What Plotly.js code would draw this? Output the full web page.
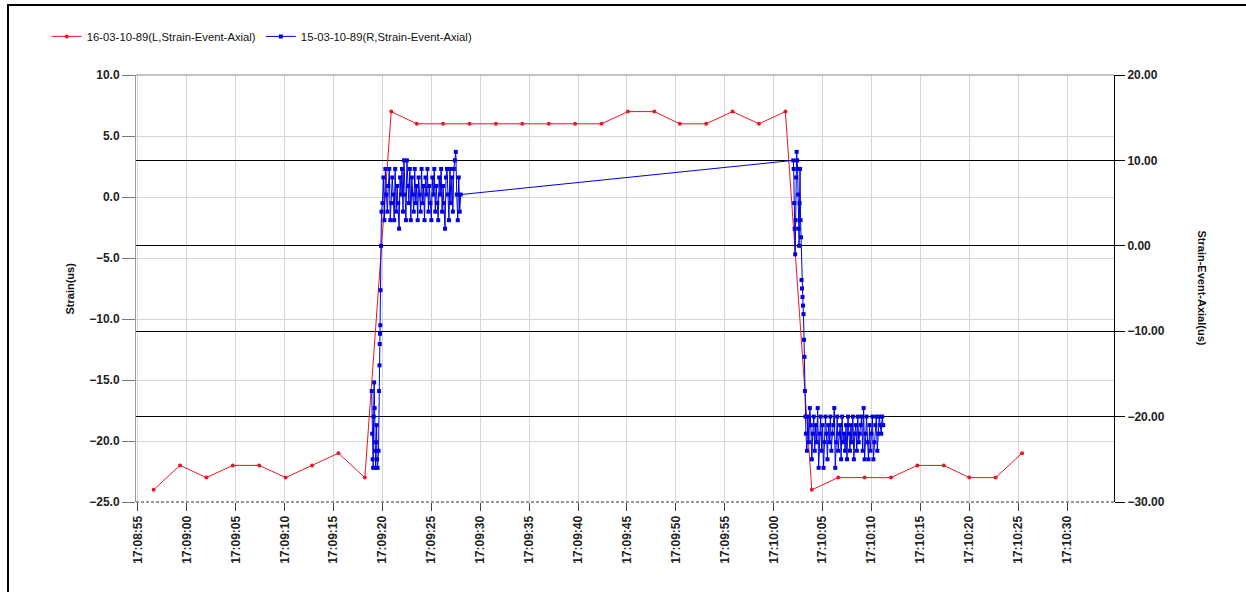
<!DOCTYPE html>
<html><head><meta charset="utf-8">
<script src="https://cdn.plot.ly/plotly-3.0.1.min.js"></script>
<style>
html,body{margin:0;padding:0;background:#fff;overflow:hidden;}
#chart{width:1246px;height:592px;}
#frame{position:absolute;left:7px;top:4px;width:1245px;height:592px;border-top:2px solid #000;border-left:2px solid #000;pointer-events:none;}
</style>
</head><body><div id="chart"></div><div id="frame"></div>
<script>
// ---- data (times in seconds after 17:08:00) ----
const seriesNames = ['16-03-10-89(L,Strain-Event-Axial)', '15-03-10-89(R,Strain-Event-Axial)'];

const redTimes = [56.6,59.3,62.0,64.7,67.4,70.1,72.8,75.5,78.2,80.9,83.5,86.2,88.9,91.6,94.3,97.0,99.7,102.4,105.1,107.8,110.4,113.1,115.8,118.5,121.2,123.9,126.6,129.3,132.0,134.7,137.4,140.0,142.7,145.4];
const redValues = [-24,-22,-23,-22,-22,-23,-22,-21,-23,7,6,6,6,6,6,6,6,6,7,7,6,6,7,6,7,-24,-23,-23,-23,-22,-22,-23,-23,-21];

const blueTimesA = [78.90,78.95,79.00,79.05,79.10,79.15,79.20,79.25,79.30,79.35,79.40,79.45,79.50,
  79.60,79.65,79.70,79.72,79.75,79.78,79.80,79.85,79.90,
  80.0,80.1,80.2,80.3,80.4,80.5,80.6,80.7,80.8,80.9,81.0,81.1,81.2,81.3,81.4,81.5,81.6,81.7,81.8,81.9,
  82.0,82.1,82.2,82.3,82.4,82.5,82.6,82.7,82.8,82.9,83.0,83.1,83.2,83.3,83.4,83.5,83.6,83.7,83.8,83.9,
  84.0,84.1,84.2,84.3,84.4,84.5,84.6,84.7,84.8,84.9,85.0,85.1,85.2,85.3,85.4,85.5,85.6,85.7,85.8,85.9,
  86.0,86.1,86.2,86.3,86.4,86.5,86.6,86.7,86.8,86.9,87.0,87.1,87.2,87.3,87.4,87.5,87.6,87.7,87.8,87.9,88.0];
const blueValuesA = [-17,-22,-25,-26,-20,-16,-19,-24,-26,-23,-21,-25,-26,
  -24,-17,-14,-11.5,-10.3,-9.3,-5.2,0,4,
  5,8,3,9,6,4,7,9,3,5,8,6,3,9,4,7,5,2,8,6,
  9,4,10,6,3,10,7,5,9,3,8,6,4,9,5,7,3,8,6,4,
  9,5,7,3,8,6,9,4,7,5,3,8,6,9,4,7,5,3,8,6,
  9,4,7,5,2,8,9,6,3,9,5,8,4,9,10,11,6,3,8,4,6];

const blueTimesB = [122.00,122.05,122.10,122.15,122.20,122.25,122.30,122.35,122.40,122.45,122.50,122.55,122.60,122.65,122.70,122.75,122.80,122.85,122.90,122.95,123.00,123.05,123.10,123.15,123.20,123.25,
  123.3,123.4,123.5,123.6,123.7,123.8,123.9,124.0,124.1,124.2,124.3,124.4,124.5,124.6,124.7,124.8,124.9,
  125.0,125.1,125.2,125.3,125.4,125.5,125.6,125.7,125.8,125.9,126.0,126.1,126.2,126.3,126.4,126.5,126.6,126.7,126.8,126.9,
  127.0,127.1,127.2,127.3,127.4,127.5,127.6,127.7,127.8,127.9,128.0,128.1,128.2,128.3,128.4,128.5,128.6,128.7,128.8,128.9,
  129.0,129.1,129.2,129.3,129.4,129.5,129.6,129.7,129.8,129.9,130.0,130.1,130.2,130.3,130.4,130.5,130.6,130.7,130.8,130.9,131.0,131.1,131.2];
const blueValuesB = [10,9,5,2,-1,3,8,11,10,9,6,2,0,5,9,3,1,-4,-5,-6,-7,-8,-11,-13,-17,-20,
  -22,-24,-20,-23,-19,-21,-25,-22,-20,-24,-21,-23,-19,-26,-22,-20,-24,
  -21,-26,-23,-20,-22,-25,-21,-23,-20,-24,-22,-21,-19,-26,-23,-20,-24,-22,-21,-25,
  -20,-23,-22,-24,-21,-25,-20,-22,-24,-21,-23,-20,-25,-22,-21,-24,-20,-23,-22,-21,
  -20,-24,-19,-25,-22,-20,-23,-25,-21,-24,-22,-20,-25,-23,-21,-20,-24,-22,-20,-21,-22,-20,-21];

const leftRange = [-25, 10];
const rightRange = [-30, 20];
const leftTitle = 'Strain(us)';
const rightTitle = 'Strain-Event-Axial(us)';

// ---- helpers ----
const DAY = '2010-03-16 ';
function ts(sec){
  let ms = Math.round((17*3600 + 8*60 + sec) * 1000);
  const h = Math.floor(ms/3600000); ms -= h*3600000;
  const m = Math.floor(ms/60000); ms -= m*60000;
  const s = Math.floor(ms/1000); ms -= s*1000;
  const p = (n,w) => String(n).padStart(w||2,'0');
  return DAY + p(h)+':'+p(m)+':'+p(s)+'.'+p(ms,3);
}

const blueTimes = blueTimesA.concat(blueTimesB);
const blueValues = blueValuesA.concat(blueValuesB);

const RED = 'rgb(232,24,36)';
const BLUE = 'rgb(0,0,225)';
const FONT = 'Liberation Sans, Arial, sans-serif';

const traces = [
  {
    x: blueTimes.map(ts), y: blueValues, name: seriesNames[1], yaxis: 'y2',
    type: 'scatter', mode: 'lines+markers',
    line: {color: BLUE, width: 1},
    marker: {color: BLUE, size: 4, symbol: 'square'}
  },
  {
    x: redTimes.map(ts), y: redValues, name: seriesNames[0], yaxis: 'y',
    type: 'scatter', mode: 'lines+markers',
    line: {color: RED, width: 1},
    marker: {color: RED, size: 4, symbol: 'circle'}
  }
];

const tickFont = {family: FONT, size: 12, color: '#222', weight: 'bold'};

const layout = {
  width: 1246, height: 592,
  margin: {l: 136, r: 132, t: 75, b: 90, pad: 0},
  paper_bgcolor: '#fff', plot_bgcolor: '#fff',
  showlegend: true,
  legend: {
    orientation: 'h', traceorder: 'reversed',
    xref: 'container', yref: 'container', x: 0.0375, y: 0.963, xanchor: 'left', yanchor: 'top',
    font: {family: FONT, size: 11.3, color: '#111'},
    bgcolor: 'rgba(0,0,0,0)', itemwidth: 30
  },
  xaxis: {
    type: 'date',
    range: [ts(54.8), ts(154.8)],
    tick0: ts(55), dtick: 5000, tickformat: '%H:%M:%S',
    tickangle: -90, tickfont: tickFont,
    ticks: 'outside', ticklen: 8, tickcolor: '#444',
    showgrid: true, gridcolor: '#d6d6d6', gridwidth: 1,
    showline: false, zeroline: false
  },
  yaxis: {
    range: leftRange, dtick: 5, tick0: 0, tickformat: '.1f',
    tickfont: tickFont, ticks: 'outside', ticklen: 13, tickcolor: '#777',
    showgrid: true, gridcolor: '#d6d6d6', gridwidth: 1,
    showline: true, linecolor: '#999', linewidth: 1,
    zeroline: false
  },
  yaxis2: {
    range: rightRange, dtick: 10, tick0: 0, tickformat: '.2f',
    overlaying: 'y', side: 'right',
    tickfont: tickFont, ticks: 'outside', ticklen: 10, tickcolor: '#000',
    showgrid: true, gridcolor: '#000', gridwidth: 1,
    showline: true, linecolor: '#000', linewidth: 1,
    zeroline: false
  },
  shapes: [
    {type: 'line', xref: 'paper', yref: 'paper', x0: 0, x1: 1, y0: 1, y1: 1, line: {color: '#888', width: 1}},
    {type: 'line', xref: 'paper', yref: 'paper', x0: 0, x1: 1, y0: 0, y1: 0, line: {color: '#777', width: 1.5, dash: '3px,2px'}}
  ],
  annotations: [
    {text: leftTitle, xref: 'paper', yref: 'paper', x: -0.0675, y: 0.5, xanchor: 'center', yanchor: 'middle',
     textangle: -90, showarrow: false,
     font: {family: FONT, size: 11, color: '#111', weight: 'bold'}},
    {text: rightTitle, xref: 'paper', yref: 'paper', x: 1.091, y: 0.5, xanchor: 'center', yanchor: 'middle',
     textangle: 90, showarrow: false,
     font: {family: FONT, size: 11, color: '#111', weight: 'bold'}}
  ]
};

Plotly.newPlot('chart', traces, layout, {displayModeBar: false, staticPlot: true});
</script>
</body></html>
